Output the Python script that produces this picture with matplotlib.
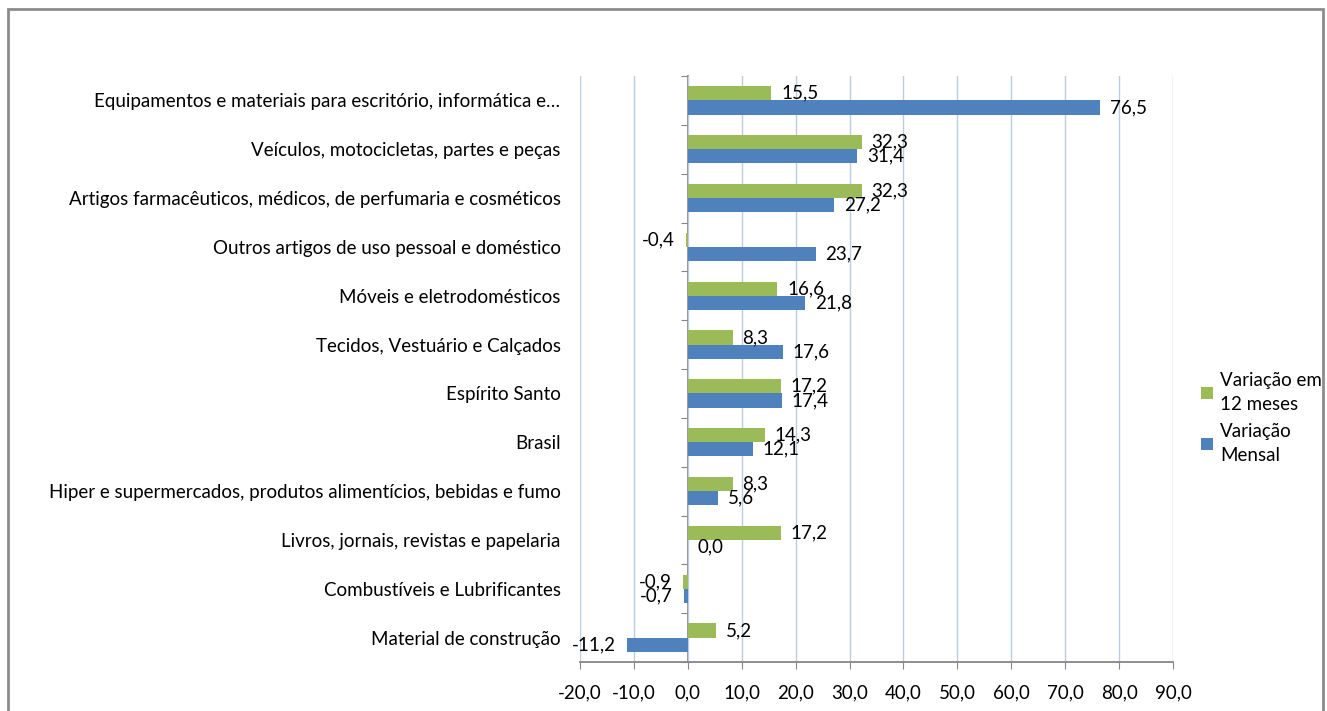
import numpy as np
import matplotlib.pyplot as plt
from matplotlib.patches import Rectangle

plt.rcParams['font.family'] = ['Lato', 'DejaVu Sans']

# categories, top to bottom
categories = [
    'Equipamentos e materiais para escritório, informática e…',
    'Veículos, motocicletas, partes e peças',
    'Artigos farmacêuticos, médicos, de perfumaria e cosméticos',
    'Outros artigos de uso pessoal e doméstico',
    'Móveis e eletrodomésticos',
    'Tecidos, Vestuário e Calçados',
    'Espírito Santo',
    'Brasil',
    'Hiper e supermercados, produtos alimentícios, bebidas e fumo',
    'Livros, jornais, revistas e papelaria',
    'Combustíveis e Lubrificantes',
    'Material de construção',
]
var_12m = [15.5, 32.3, 32.3, -0.4, 16.6, 8.3, 17.2, 14.3, 8.3, 17.2, -0.9, 5.2]
var_mensal = [76.5, 31.4, 27.2, 23.7, 21.8, 17.6, 17.4, 12.1, 5.6, 0.0, -0.7, -11.2]
xticks = np.arange(-20, 91, 10)

green = '#9BBB59'
blue = '#4F81BD'
fs = 13.5

fig = plt.figure(figsize=(13.27, 7.11), dpi=100)
ax = fig.add_axes([580 / 1327, 1 - 662 / 711, (1173 - 580) / 1327, (662 - 76) / 711])

y = np.arange(len(categories))
h = 0.29
b1 = ax.barh(y - h / 2, var_12m, height=h, color=green, label='Variação em\n12 meses', zorder=3)
b2 = ax.barh(y + h / 2, var_mensal, height=h, color=blue, label='Variação\nMensal', zorder=3)

def fmt(v):
    return f'{v:.1f}'.replace('.', ',')

# data labels
for bars, vals in [(b1, var_12m), (b2, var_mensal)]:
    for bar, v in zip(bars, vals):
        cy = bar.get_y() + bar.get_height() / 2
        if v < 0:
            ax.annotate(fmt(v), (v, cy), xytext=(-8, 0), textcoords='offset points',
                        ha='right', va='center', fontsize=fs)
        else:
            ax.annotate(fmt(v), (v, cy), xytext=(7, 0), textcoords='offset points',
                        ha='left', va='center', fontsize=fs)

ax.set_xlim(-20, 90)
ax.set_ylim(len(categories) - 0.5, -0.5)
ax.set_xticks(xticks)
ax.set_xticklabels([fmt(t) for t in xticks], fontsize=fs)
ax.set_yticks(y)
ax.set_yticklabels(categories, fontsize=fs)
ax.tick_params(axis='y', length=0, pad=14)
ax.tick_params(axis='x', length=5, color='#868686', pad=11)
ax.grid(axis='x', color='#B9CDE5', linewidth=1, zorder=0)
for s in ['top', 'right', 'left']:
    ax.spines[s].set_visible(False)
ax.spines['bottom'].set_color('#868686')
ax.spines['bottom'].set_linewidth(1.3)

# category axis drawn at zero
loc0 = (0 - (-20)) / 110
sec = ax.secondary_yaxis(loc0)
sec.set_yticks(np.arange(-0.5, len(categories), 1.0))
sec.set_yticklabels([])
sec.tick_params(length=5, color='#868686')
sec.spines['left'].set_color('#868686')
sec.spines['left'].set_linewidth(1.3)

leg = ax.legend(loc='center left', bbox_to_anchor=(1193 / 1327, 1 - 418 / 711),
                bbox_transform=fig.transFigure, frameon=False, fontsize=fs,
                handlelength=0.65, handleheight=0.65, handletextpad=0.4, labelspacing=0.5,
                borderaxespad=0)
for t in leg.get_texts():
    t.set_linespacing(1.55)

# outer chart border
fig.patches.append(Rectangle((8 / 1327, -0.05), (1323 - 8) / 1327, 1 - 9 / 711 + 0.05,
                             transform=fig.transFigure, fill=False,
                             edgecolor='#8C8C8C', linewidth=2))

fig.savefig('out.png', dpi=100)
